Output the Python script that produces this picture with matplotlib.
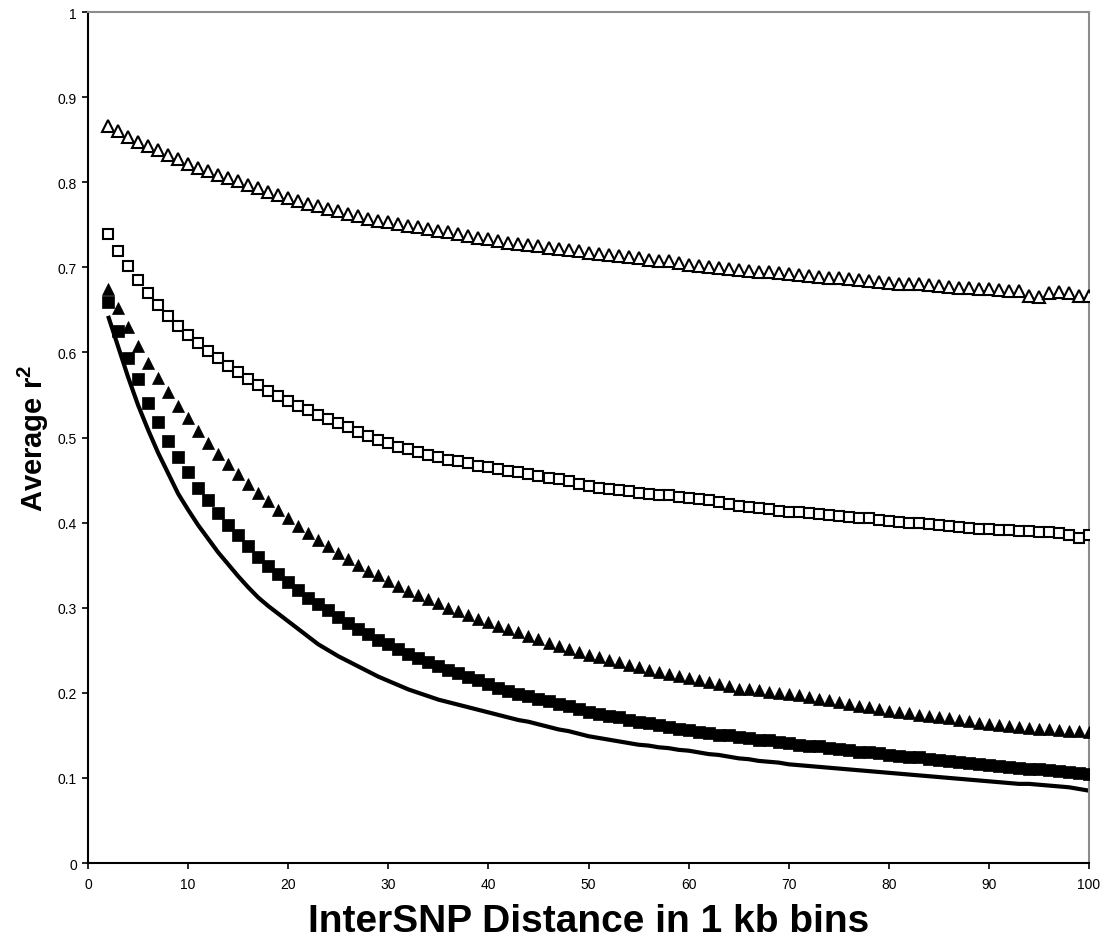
import matplotlib
matplotlib.use("Agg")
import matplotlib.pyplot as plt

plt.rcParams['font.family'] = ['Liberation Sans', 'DejaVu Sans']
plt.rcParams['mathtext.fontset'] = 'custom'
plt.rcParams['mathtext.bf'] = 'Liberation Sans:bold'
plt.rcParams['mathtext.rm'] = 'Liberation Sans'

# Distance bins (kb)
distance = list(range(2, 101))

# Average r^2 per bin for each population sample
open_triangles = [
    0.866, 0.860, 0.853, 0.847, 0.843, 0.838, 0.832, 0.827, 0.822, 0.817,
    0.813, 0.809, 0.805, 0.801, 0.797, 0.793, 0.789, 0.785, 0.781, 0.778,
    0.775, 0.772, 0.769, 0.766, 0.763, 0.760, 0.757, 0.755, 0.753, 0.751,
    0.749, 0.747, 0.745, 0.743, 0.741, 0.739, 0.737, 0.735, 0.733, 0.731,
    0.729, 0.728, 0.726, 0.725, 0.723, 0.722, 0.720, 0.719, 0.717, 0.716,
    0.714, 0.713, 0.712, 0.711, 0.709, 0.708, 0.707, 0.705, 0.703, 0.701,
    0.700, 0.699, 0.698, 0.697, 0.696, 0.695, 0.694, 0.693, 0.692, 0.691,
    0.690, 0.689, 0.688, 0.687, 0.686, 0.685, 0.684, 0.683, 0.682, 0.681,
    0.680, 0.680, 0.679, 0.678, 0.677, 0.676, 0.676, 0.675, 0.674, 0.673,
    0.672, 0.672, 0.666, 0.665, 0.670, 0.671, 0.670, 0.666, 0.666,
]

open_squares = [
    0.739, 0.719, 0.702, 0.685, 0.670, 0.656, 0.643, 0.631, 0.621, 0.611,
    0.602, 0.593, 0.584, 0.577, 0.569, 0.562, 0.555, 0.549, 0.543, 0.537,
    0.532, 0.527, 0.522, 0.517, 0.512, 0.507, 0.502, 0.497, 0.493, 0.489,
    0.486, 0.483, 0.480, 0.477, 0.474, 0.472, 0.470, 0.467, 0.465, 0.463,
    0.461, 0.459, 0.457, 0.455, 0.453, 0.451, 0.449, 0.445, 0.443, 0.441,
    0.440, 0.438, 0.437, 0.435, 0.434, 0.433, 0.432, 0.430, 0.429, 0.428,
    0.426, 0.424, 0.422, 0.420, 0.418, 0.417, 0.416, 0.414, 0.413, 0.412,
    0.411, 0.410, 0.409, 0.408, 0.407, 0.406, 0.405, 0.403, 0.402, 0.401,
    0.400, 0.399, 0.398, 0.397, 0.396, 0.395, 0.394, 0.393, 0.392, 0.391,
    0.391, 0.390, 0.390, 0.389, 0.389, 0.388, 0.385, 0.382, 0.386,
]

filled_triangles = [
    0.675, 0.652, 0.630, 0.608, 0.588, 0.570, 0.553, 0.537, 0.523, 0.508,
    0.494, 0.481, 0.469, 0.457, 0.445, 0.435, 0.425, 0.415, 0.405, 0.396,
    0.388, 0.380, 0.372, 0.364, 0.357, 0.350, 0.343, 0.338, 0.331, 0.326,
    0.320, 0.315, 0.310, 0.305, 0.300, 0.296, 0.292, 0.287, 0.283, 0.279,
    0.275, 0.271, 0.267, 0.263, 0.259, 0.255, 0.251, 0.248, 0.245, 0.242,
    0.239, 0.236, 0.233, 0.230, 0.227, 0.225, 0.222, 0.220, 0.217, 0.215,
    0.213, 0.210, 0.208, 0.205, 0.204, 0.203, 0.201, 0.200, 0.199, 0.197,
    0.195, 0.193, 0.191, 0.189, 0.187, 0.185, 0.183, 0.181, 0.179, 0.177,
    0.176, 0.174, 0.173, 0.171, 0.170, 0.168, 0.167, 0.165, 0.163, 0.162,
    0.161, 0.160, 0.159, 0.158, 0.157, 0.156, 0.155, 0.155, 0.154,
]

filled_squares = [
    0.659, 0.625, 0.594, 0.569, 0.541, 0.518, 0.496, 0.477, 0.459, 0.441,
    0.426, 0.411, 0.397, 0.385, 0.372, 0.360, 0.349, 0.340, 0.330, 0.321,
    0.312, 0.304, 0.297, 0.289, 0.282, 0.275, 0.269, 0.262, 0.257, 0.251,
    0.246, 0.241, 0.236, 0.232, 0.227, 0.223, 0.219, 0.215, 0.210, 0.206,
    0.202, 0.199, 0.196, 0.193, 0.190, 0.187, 0.184, 0.181, 0.178, 0.175,
    0.173, 0.171, 0.168, 0.166, 0.164, 0.162, 0.160, 0.158, 0.156, 0.154,
    0.153, 0.151, 0.150, 0.148, 0.147, 0.145, 0.144, 0.142, 0.141, 0.139,
    0.138, 0.137, 0.135, 0.134, 0.133, 0.131, 0.130, 0.129, 0.127, 0.126,
    0.125, 0.124, 0.122, 0.121, 0.120, 0.119, 0.118, 0.116, 0.115, 0.114,
    0.113, 0.112, 0.111, 0.110, 0.109, 0.108, 0.107, 0.106, 0.105,
]

expected_curve = [
    0.643, 0.607, 0.571, 0.538, 0.509, 0.482, 0.458, 0.434, 0.415, 0.397,
    0.381, 0.365, 0.351, 0.337, 0.324, 0.312, 0.302, 0.293, 0.284, 0.275,
    0.266, 0.257, 0.250, 0.243, 0.237, 0.231, 0.225, 0.219, 0.214, 0.209,
    0.204, 0.200, 0.196, 0.192, 0.189, 0.186, 0.183, 0.180, 0.177, 0.174,
    0.171, 0.168, 0.166, 0.163, 0.160, 0.157, 0.155, 0.152, 0.149, 0.147,
    0.145, 0.143, 0.141, 0.139, 0.138, 0.136, 0.135, 0.133, 0.132, 0.130,
    0.128, 0.127, 0.125, 0.123, 0.122, 0.120, 0.119, 0.118, 0.116, 0.115,
    0.114, 0.113, 0.112, 0.111, 0.110, 0.109, 0.108, 0.107, 0.106, 0.105,
    0.104, 0.103, 0.102, 0.101, 0.100, 0.099, 0.098, 0.097, 0.096, 0.095,
    0.094, 0.093, 0.093, 0.092, 0.091, 0.090, 0.089, 0.087, 0.085,
]

x_ticks = list(range(0, 101, 10))
y_ticks = [0, 0.1, 0.2, 0.3, 0.4, 0.5, 0.6, 0.7, 0.8, 0.9, 1]
y_tick_labels = ['0', '0.1', '0.2', '0.3', '0.4', '0.5', '0.6', '0.7', '0.8', '0.9', '1']

fig = plt.figure(figsize=(11.09, 9.45), dpi=100)
ax = fig.add_axes([0.0794, 0.0857, 0.9026, 0.9005])

ax.plot(distance, expected_curve, color='black', linewidth=3.0, zorder=2,
        solid_capstyle='butt')
ax.plot(distance, filled_triangles, linestyle='none', marker='^', markersize=8.5,
        markerfacecolor='black', markeredgecolor='black', markeredgewidth=0.5, zorder=3)
ax.plot(distance, filled_squares, linestyle='none', marker='s', markersize=8.0,
        markerfacecolor='black', markeredgecolor='black', markeredgewidth=0.5, zorder=4)
ax.plot(distance, open_squares, linestyle='none', marker='s', markersize=7.5,
        markerfacecolor='white', markeredgecolor='black', markeredgewidth=1.5, zorder=3)
ax.plot(distance, open_triangles, linestyle='none', marker='^', markersize=8.3,
        markerfacecolor='white', markeredgecolor='black', markeredgewidth=1.5, zorder=3)

ax.set_xlim(0, 100)
ax.set_ylim(0, 1)
ax.set_xticks(x_ticks)
ax.set_yticks(y_ticks)
ax.set_yticklabels(y_tick_labels)
ax.tick_params(axis='both', direction='out', length=4, width=1.2, labelsize=10,
               colors='black')
ax.tick_params(axis='x', pad=6)
ax.tick_params(axis='y', pad=4)

for side in ('left', 'bottom'):
    ax.spines[side].set_color('black')
    ax.spines[side].set_linewidth(1.5)
for side in ('top', 'right'):
    ax.spines[side].set_color('#8c8c8c')
    ax.spines[side].set_linewidth(1.5)

ax.set_xlabel('InterSNP Distance in 1 kb bins', fontsize=28, fontweight='bold',
              labelpad=9)
ax.set_ylabel(r'Average r$^{\mathbf{2}}$', fontsize=21, fontweight='bold',
              labelpad=5)

fig.savefig('out.png', dpi=100)
